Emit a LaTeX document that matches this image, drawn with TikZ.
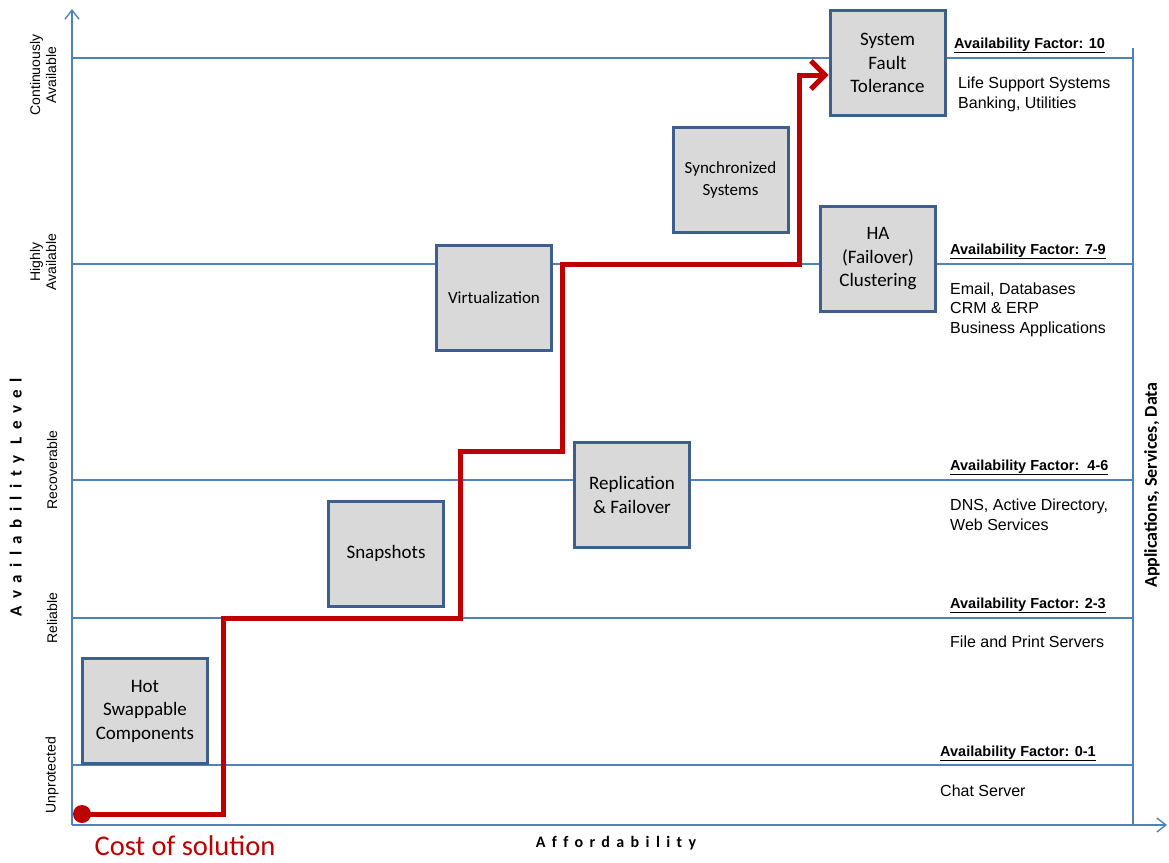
\documentclass[tikz,border=0pt]{standalone}
\usepackage{fontspec}
\setmainfont{Liberation Sans}
\newfontfamily\boxfont{Carlito}
\newfontfamily\spacedfont[LetterSpace=40,Ligatures=NoCommon]{Carlito}
\newfontfamily\widefont[LetterSpace=44,Ligatures=NoCommon]{Carlito}
\usetikzlibrary{arrows.meta}
\definecolor{axisblue}{HTML}{4F81BD}
\definecolor{boxblue}{HTML}{3E5F8E}
\definecolor{boxgray}{HTML}{D9D9D9}
\definecolor{costred}{HTML}{C00000}
\tikzset{
  level line/.style={draw=axisblue, line width=1.6pt},
  solution/.style={draw=boxblue, fill=boxgray, line width=3pt, minimum width=115pt,
    minimum height=105pt, align=center, inner sep=2pt,
    font=\boxfont\fontsize{19}{23.5}\selectfont},
  level name/.style={rotate=90, align=center, inner sep=0pt,
    font=\fontsize{14}{16}\selectfont},
  factor/.style={anchor=base west, inner sep=0pt, font=\bfseries\fontsize{14.5}{17}\selectfont},
  usage/.style={anchor=base west, align=left, inner sep=0pt,
    font=\fontsize{16}{19.5}\selectfont},
  axis title/.style={inner sep=0pt, font=\spacedfont\bfseries\fontsize{16}{19}\selectfont},
  cost path/.style={draw=costred, line width=5pt, line join=miter}
}
\begin{document}
\begin{tikzpicture}[x=1pt,y=-1pt]
    \useasboundingbox (0,0) rectangle (1169,862);

    %availability levels
    \foreach \y in {58,264,480,618,765}
        \draw[level line] (72,\y) -- (1133,\y);

    %axes
    \draw[axisblue, line width=1.4pt, -{Straight Barb[length=9pt,width=14pt]}] (72,825) -- (72,9);
    \draw[axisblue, line width=1.4pt, -{Straight Barb[length=9pt,width=14pt]}] (72,825) -- (1167,825);
    \draw[level line] (1133,48) -- (1133,825);

    %level names
    \node[level name] (contav) at (43,75) {Continuously\\Available};
    \node[level name] (highav) at (43,262) {Highly\\Available};
    \node[level name] (recov) at (52,470) {Recoverable};
    \node[level name] (reli) at (52,618) {Reliable};
    \node[level name] (unprot) at (52,775) {Unprotected};

    %axis titles
    \node[axis title, rotate=90, font=\widefont\bfseries\fontsize{17}{20}\selectfont] (ylabel) at (17,497) {Availability Level};
    \node[axis title] (xlabel) at (616,843) {Affordability};
    \node[inner sep=0pt, rotate=90, font=\boxfont\bfseries\fontsize{18}{21}\selectfont] (rlabel) at (1152,485) {Applications, Services, Data};

    %solutions
    \node[solution, minimum width=125pt] (hot) at (145,711) {Hot\\Swappable\\Components};
    \node[solution] (snap) at (386,553.5) {Snapshots};
    \node[solution, font=\boxfont\fontsize{17}{22}\selectfont] (virt) at (494,298) {Virtualization};
    \node[solution] (repl) at (632,495) {Replication\\\& Failover};
    \node[solution, font=\boxfont\fontsize{17}{22}\selectfont] (sync) at (730.5,180) {Synchronized\\Systems};
    \node[solution] (ha) at (878,259) {HA\\(Failover)\\Clustering};
    \node[solution] (sft) at (887.5,63) {System\\Fault\\Tolerance};

    %cost of solution
    \node[circle, fill=costred, minimum size=18pt, inner sep=0pt] (start) at (82,814) {};
    \draw[cost path, -{Straight Barb[length=14pt,width=28pt]}] (start.center) -- (223,814) |- (460,618) |- (562,451) |- (799,264) |- (sft.west |- 0,75);
    \node[text=costred, inner sep=0pt, font=\boxfont\fontsize{28.5}{33}\selectfont] (cost) at (185,846) {Cost of solution};

    %availability factors
    \node[factor] (af10) at (954,48) {\underline{Availability Factor: 10}};
    \node[usage] (use10) at (958,108) {Life Support Systems\\Banking, Utilities};
    \node[factor] (af79) at (950,254) {\underline{Availability Factor: 7-9}};
    \node[usage] (use79) at (950,333) {Email, Databases\\CRM \& ERP\\Business Applications};
    \node[factor] (af46) at (950,470) {\underline{Availability Factor:\ \ 4-6}};
    \node[usage] (use46) at (950,530) {DNS, Active Directory,\\Web Services};
    \node[factor] (af23) at (950,608) {\underline{Availability Factor: 2-3}};
    \node[usage] (use23) at (950,647) {File and Print Servers};
    \node[factor] (af01) at (940,756) {\underline{Availability Factor: 0-1}};
    \node[usage] (use01) at (940,796) {Chat Server};

\end{tikzpicture}
\end{document}
